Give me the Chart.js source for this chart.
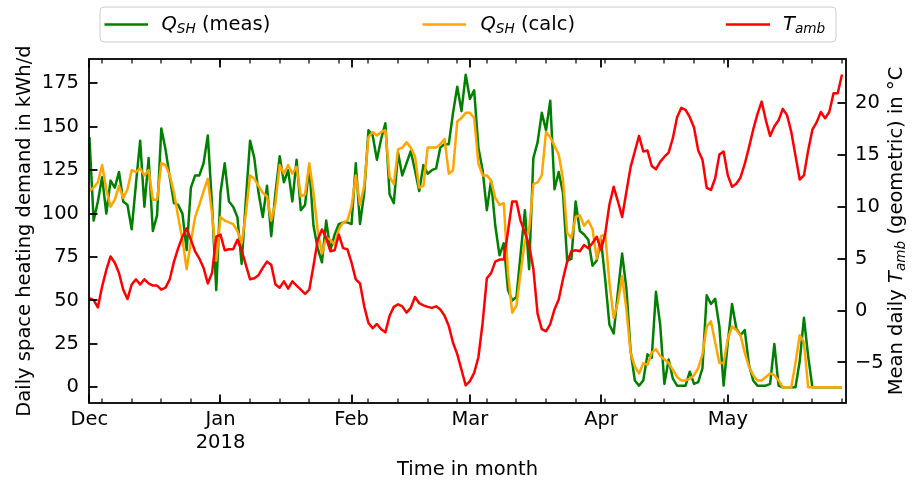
<!DOCTYPE html>
<html><head><meta charset="utf-8">
<script src="https://cdn.jsdelivr.net/npm/chart.js@4.4.0/dist/chart.umd.min.js"></script>
<style>html,body{margin:0;padding:0;background:#fff}</style>
</head><body>
<canvas id="c" width="913" height="483"></canvas>
<script>
// Day index 0 = 2017-12-01, one value per day
const startDate = '2017-12-01';
const qMeas = [144,96,107,121,100,119,115,124,107,105,91,117,142,104,132,90,99,149,137,121,106,105,100,79,115,122,122,129,145,105,
56,112,129,107,104,98,71,108,142,132,112,98,116,87,112,133,118,125,107,131,102,105,127,93,80,72,96,79,88,94,
95,95,94,129,94,112,148,145,131,143,152,111,106,135,122,129,136,125,113,128,123,125,126,138,140,140,158,173,159,180,
166,171,138,125,102,119,93,76,83,56,50,52,77,102,68,132,141,158,148,165,114,124,112,73,74,107,90,88,85,70,
73,85,62,36,31,55,77,57,21,4,1,4,19,17,55,36,2,16,5,1,1,1,9,2,3,11,53,48,51,35,
1,26,48,34,30,33,13,4,1,1,1,2,25,1,0,0,0,0,15,40,18,0,0,0,0,0,0,0,0];
const qCalc = [113,115,118,128,114,104,108,116,109,114,125,124,126,122,125,108,108,129,128,122,112,98,85,68,84,98,105,113,120,100,
73,98,96,95,94,90,83,100,122,120,116,112,110,96,106,128,123,128,123,127,110,111,129,112,90,77,86,85,82,91,
95,96,104,122,105,116,144,147,145,147,148,121,117,137,138,141,138,133,115,116,138,138,138,140,143,123,125,153,155,158,
158,155,129,122,122,119,109,105,106,66,43,47,66,84,91,117,118,122,147,144,139,134,120,89,86,98,99,93,96,91,
74,87,88,60,40,49,64,45,20,12,8,14,13,20,22,18,16,14,10,6,4,4,5,7,11,19,35,38,26,14,
14,28,35,33,30,20,12,7,4,4,6,8,7,4,0,0,0,14,30,26,0,0,0,0,0,0,0,0,0];
const tAmb = [1.2,1.0,0.3,2.3,3.9,5.2,4.6,3.6,2.0,1.1,2.5,3.0,2.5,3.0,2.6,2.4,2.4,2.0,2.2,3.0,4.7,6.0,7.1,7.9,6.8,5.7,5.0,4.1,2.6,3.6,
7.1,7.3,5.8,5.9,5.9,6.8,5.8,4.4,3.0,3.1,3.4,4.1,4.7,4.4,2.5,2.2,2.8,2.1,2.8,2.4,2.0,1.6,2.0,4.3,6.8,7.8,7.0,5.7,5.8,7.3,
6.0,5.9,4.6,3.0,2.6,0.4,-1.2,-1.7,-1.3,-1.8,-2.1,-0.5,0.35,0.6,0.4,-0.2,0.25,1.3,0.7,0.5,0.35,0.25,0.4,0.1,-0.5,-1.5,-3.1,-4.2,-5.7,-7.2,
-6.8,-6.0,-4.5,-1.2,3.1,3.6,4.7,4.9,4.9,7.6,10.5,10.5,8.6,7.5,6.3,4.0,-0.3,-1.8,-2.0,-1.3,0.1,1.05,3.0,4.7,5.7,5.8,5.7,6.3,6.0,6.5,
7.1,5.8,7.4,10.2,11.9,10.5,9.0,11.4,13.8,15.3,16.8,15.3,15.4,13.9,13.6,14.3,14.8,15.2,16.6,18.6,19.5,19.3,18.6,17.6,15.4,14.5,11.8,11.6,12.7,15.0,
15.3,13.0,11.9,12.2,12.8,14.1,15.7,17.4,18.9,20.1,18.3,16.8,17.7,18.3,19.4,18.8,17.2,14.9,12.6,13.0,15.4,17.4,18.1,19.1,18.5,19.1,20.9,20.9,22.7];

const monthTickDays = [0,31,62,90,121,151];
const monthTickLabels = [['Dec'],['Jan','2018'],['Feb'],['Mar'],['Apr'],['May']];
const weekTickDays = [3,10,17,24,31,38,45,52,59,66,73,80,87,94,101,108,115,122,129,136,143,150,157,164,171,178];
const leftTicks = [0,25,50,75,100,125,150,175];
const rightTicks = [-5,0,5,10,15,20];

const FONT = 'DejaVu Sans';
const FS = 19.5;
Chart.defaults.font.family = FONT;
Chart.defaults.font.size = FS;
Chart.defaults.color = '#000';

const toXY = arr => arr.map((v, i) => ({x: i, y: v}));

function setFont(ctx, s, size) {
  const fs = s.sub ? size * 0.7 : size;
  ctx.font = (s.italic ? 'italic ' : '') + fs + 'px "' + FONT + '"';
}
function drawRich(ctx, segs, size) {
  let x = 0;
  for (const s of segs) {
    setFont(ctx, s, size);
    ctx.fillText(s.text, x, s.sub ? size * 0.24 : 0);
    x += ctx.measureText(s.text).width;
  }
  return x;
}
function richWidth(ctx, segs, size) {
  let x = 0;
  for (const s of segs) { setFont(ctx, s, size); x += ctx.measureText(s.text).width; }
  return x;
}

const decor = {
  id: 'decor',
  afterDraw(chart) {
    const ctx = chart.ctx;
    const a = chart.chartArea;
    const xs = chart.scales.x, yl = chart.scales.y, yr = chart.scales.y2;
    ctx.save();
    ctx.fillStyle = '#000';
    // inward tick marks as filled rectangles
    const vtick = (px, y, len, w) => ctx.fillRect(Math.round(px) - w / 2, y, w, len);
    const htick = (x, py, len, w) => ctx.fillRect(x, Math.round(py) - w / 2, len, w);
    for (const d of weekTickDays) {
      const p = xs.getPixelForValue(d);
      vtick(p, a.bottom - 4.5, 4.5, 1.2);
      vtick(p, a.top, 4.5, 1.2);
    }
    for (const d of monthTickDays) {
      const p = xs.getPixelForValue(d);
      vtick(p, a.bottom - 8.5, 8.5, 1.8);
      vtick(p, a.top, 8.5, 1.8);
    }
    for (const v of leftTicks) htick(a.left, yl.getPixelForValue(v), 8.5, 1.8);
    for (const v of rightTicks) htick(a.right - 8.5, yr.getPixelForValue(v), 8.5, 1.8);
    // frame
    ctx.strokeStyle = '#000';
    ctx.lineWidth = 1.8;
    ctx.strokeRect(a.left, a.top, a.right - a.left, a.bottom - a.top);

    // right axis title
    ctx.fillStyle = '#000';
    ctx.textBaseline = 'middle';
    const rsegs = [{text: 'Mean daily '}, {text: 'T', italic: true}, {text: 'amb', italic: true, sub: true}, {text: ' (geometric) in °C'}];
    const rw = richWidth(ctx, rsegs, FS);
    ctx.save();
    ctx.translate(897, (a.top + a.bottom) / 2);
    ctx.rotate(-Math.PI / 2);
    ctx.translate(-rw / 2, 0);
    drawRich(ctx, rsegs, FS);
    ctx.restore();

    // legend
    const lx0 = 100, ly0 = 7, lx1 = 836, ly1 = 42, r = 4;
    ctx.beginPath();
    ctx.moveTo(lx0 + r, ly0); ctx.lineTo(lx1 - r, ly0); ctx.quadraticCurveTo(lx1, ly0, lx1, ly0 + r);
    ctx.lineTo(lx1, ly1 - r); ctx.quadraticCurveTo(lx1, ly1, lx1 - r, ly1);
    ctx.lineTo(lx0 + r, ly1); ctx.quadraticCurveTo(lx0, ly1, lx0, ly1 - r);
    ctx.lineTo(lx0, ly0 + r); ctx.quadraticCurveTo(lx0, ly0, lx0 + r, ly0);
    ctx.closePath();
    ctx.fillStyle = 'rgba(255,255,255,0.85)'; ctx.fill();
    ctx.strokeStyle = '#cccccc'; ctx.lineWidth = 1; ctx.stroke();
    const ly = 24.5;
    const pos = [[104.5, 148, 161.5], [422.5, 466, 480.5], [726, 770, 783]];
    const texts = [
      [{text: 'Q', italic: true}, {text: 'SH', italic: true, sub: true}, {text: ' (meas)'}],
      [{text: 'Q', italic: true}, {text: 'SH', italic: true, sub: true}, {text: ' (calc)'}],
      [{text: 'T', italic: true}, {text: 'amb', italic: true, sub: true}]
    ];
    chart.data.datasets.forEach((ds, i) => {
      ctx.strokeStyle = ds.borderColor; ctx.lineWidth = 2.5;
      ctx.beginPath(); ctx.moveTo(pos[i][0], ly); ctx.lineTo(pos[i][1], ly); ctx.stroke();
      ctx.fillStyle = '#000';
      ctx.save(); ctx.translate(pos[i][2], ly); drawRich(ctx, texts[i], FS); ctx.restore();
    });
    ctx.restore();
  }
};

new Chart(document.getElementById('c'), {
  type: 'line',
  data: {
    datasets: [
      {label: 'Q_SH (meas)', data: toXY(qMeas), borderColor: '#008000', backgroundColor: '#008000', yAxisID: 'y', order: 3},
      {label: 'Q_SH (calc)', data: toXY(qCalc), borderColor: '#FFA500', backgroundColor: '#FFA500', yAxisID: 'y', order: 2},
      {label: 'T_amb', data: toXY(tAmb), borderColor: '#FF0000', backgroundColor: '#FF0000', yAxisID: 'y2', order: 1}
    ]
  },
  options: {
    responsive: false,
    animation: false,
    devicePixelRatio: 1,
    layout: {padding: {top: 59, left: 0, right: 0, bottom: 0}},
    elements: {point: {radius: 0, hoverRadius: 0}, line: {borderWidth: 2.5, tension: 0, borderJoinStyle: 'round'}},
    plugins: {legend: {display: false}, tooltip: {enabled: false}},
    scales: {
      x: {
        type: 'linear', min: -0.1, max: 178.95,
        grid: {display: true, drawOnChartArea: false, drawTicks: false, color: 'rgba(0,0,0,0)'},
        border: {display: false},
        afterBuildTicks: s => { s.ticks = monthTickDays.map(v => ({value: v})); },
        ticks: {padding: 5, maxRotation: 0, autoSkip: false,
          callback: v => { const i = monthTickDays.indexOf(v); return i >= 0 ? monthTickLabels[i] : ''; }},
        title: {display: true, text: 'Time in month', padding: {top: 0, bottom: 1.5}},
        afterFit: s => { s.height = 80; }
      },
      y: {
        position: 'left', min: -9, max: 189,
        grid: {display: true, drawOnChartArea: false, drawTicks: false, color: 'rgba(0,0,0,0)'},
        border: {display: false},
        afterBuildTicks: s => { s.ticks = leftTicks.map(v => ({value: v})); },
        ticks: {padding: 10, autoSkip: false},
        title: {display: true, text: 'Daily space heating demand in kWh/d', padding: {top: 13, bottom: 0}},
        afterFit: s => { s.width = 89; }
      },
      y2: {
        position: 'right', min: -8.9, max: 24.2,
        grid: {display: true, drawOnChartArea: false, drawTicks: false, color: 'rgba(0,0,0,0)'},
        border: {display: false},
        afterBuildTicks: s => { s.ticks = rightTicks.map(v => ({value: v})); },
        ticks: {padding: 9, autoSkip: false, callback: v => String(v).replace('-', '\u2212')},
        title: {display: false},
        afterFit: s => { s.width = 67; }
      }
    }
  },
  plugins: [decor]
});
</script>
</body></html>
